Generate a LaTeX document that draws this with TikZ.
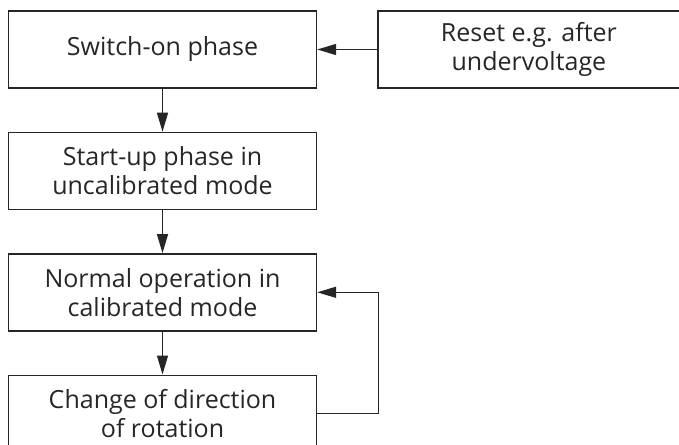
\documentclass[tikz,border=0pt]{standalone}
\usepackage{fontspec}
\setmainfont{Open Sans}
\usetikzlibrary{positioning}
\usetikzlibrary{arrows.meta}

\begin{document}
\begin{tikzpicture}[font=\fontsize{12.5}{14.5}\selectfont, color={black!85}, line width=0.7pt, node distance=21.5pt,
	block/.style={draw, align=center, minimum width=154pt, minimum height=38.5pt, inner sep=0pt},
	arr/.style={-{Triangle[length=9.5pt, width=5.5pt]}}]
	\clip (-81.25pt,24.75pt) rectangle (258.25pt,-197.25pt);
	\node[block] (switchon) at (0,0) {Switch-on phase};
	\node[block, minimum width=151pt, right=30pt of switchon] (reset) {Reset e.g. after\\undervoltage};
	\node[block, below=of switchon] (startup) {Start-up phase in\\uncalibrated mode};
	\node[block, below=of startup] (normal) {Normal operation in\\calibrated mode};
	\node[block, below=of normal] (rotation) {Change of direction\\of rotation};
	\coordinate[right=30.5pt of rotation.east] (loop);
	\draw[arr] (reset) -- (switchon);
	\draw[arr] (switchon) -- (startup);
	\draw[arr] (startup) -- (normal);
	\draw[arr] (normal) -- (rotation);
	\draw[arr] (rotation.east) -- (loop) |- (normal.east);
\end{tikzpicture}
\end{document}
